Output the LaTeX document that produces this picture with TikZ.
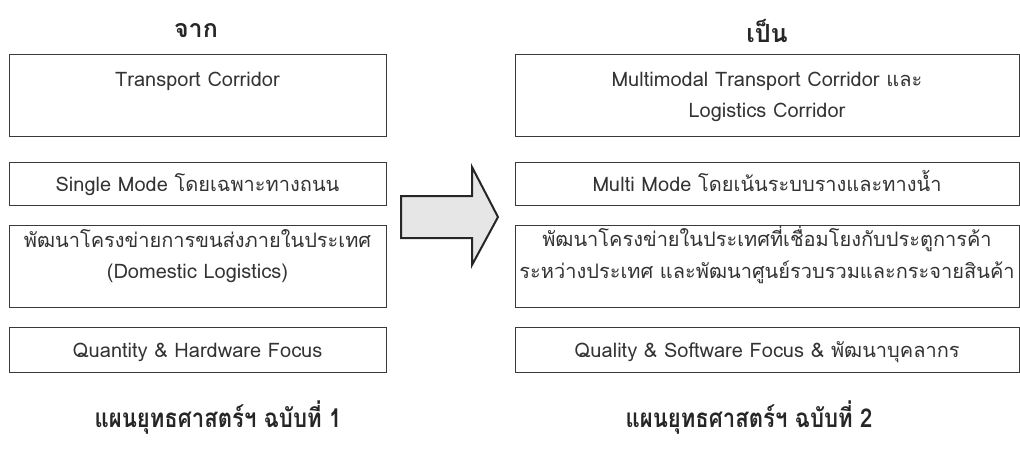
\documentclass[tikz,border=0pt]{standalone}
\usepackage{fontspec}
\setmainfont[Script=Thai]{Loma}
\newfontfamily\loma[Script=Thai]{Loma}
\newfontfamily\lomanarrow[Script=Thai, FakeStretch=0.85]{Loma}
\usetikzlibrary{calc}
\definecolor{boxline}{HTML}{3A3A3A}
\definecolor{bodytext}{HTML}{333333}
\definecolor{arrowfill}{HTML}{E6E6E6}
\tikzset{
  box/.style={draw=boxline, line width=0.9pt, rectangle, inner sep=0pt},
  body/.style={text=bodytext, align=center, inner sep=0pt, anchor=base, font=\loma\fontsize{20}{30}\selectfont},
  toptitle/.style={text=black!85, inner sep=0pt, font=\loma\bfseries\fontsize{25}{30}\selectfont},
  bottitle/.style={text=black!85, inner sep=0pt, font=\lomanarrow\bfseries\fontsize{26}{32}\selectfont},
  bigarrow/.style={draw=black!85, line width=2pt, fill=arrowfill, line join=miter}
}
\begin{document}
\begin{tikzpicture}[x=1pt,y=-1pt]
\useasboundingbox (0,0) rectangle (1020,448);
% left column boxes
\node[box, minimum width=377, minimum height=82] (L1) at (197.5,95) {};
\node[box, minimum width=377, minimum height=43] (L2) at (197.5,183.5) {};
\node[box, minimum width=377, minimum height=82] (L3) at (197.5,266) {};
\node[box, minimum width=377, minimum height=45] (L4) at (197.5,349.5) {};
% right column boxes
\node[box, minimum width=504, minimum height=82] (R1) at (767,95) {};
\node[box, minimum width=504, minimum height=43] (R2) at (767,183.5) {};
\node[box, minimum width=504, minimum height=82] (R3) at (767,266) {};
\node[box, minimum width=504, minimum height=45] (R4) at (767,349.5) {};
% titles
\node[toptitle] (tL) at (196,31) {จาก};
\node[toptitle] (tR) at (767,31) {เป็น};
\node[bottitle] (bL) at (218,418) {แผนยุทธศาสตร์ฯ ฉบับที่ 1};
\node[bottitle] (bR) at (749,418) {แผนยุทธศาสตร์ฯ ฉบับที่ 2};
% texts
\node[body] (xL1) at ($(L1.north)+(0,33)$) {Transport Corridor};
\node[body] (xL2) at ($(L2.center)+(0,8)$) {Single Mode โดยเฉพาะทางถนน};
\node[body] (xL3) at ($(L3.north)+(0,23)$) {พัฒนาโครงข่ายการขนส่งภายในประเทศ};
\node[body] (xL3b) at ($(L3.north)+(0,54)$) {(Domestic Logistics)};
\node[body] (xL4) at ($(L4.center)+(0,8)$) {Quantity \& Hardware Focus};
\node[body] (xR1) at ($(R1.north)+(0,33)$) {Multimodal Transport Corridor และ};
\node[body] (xR1b) at ($(R1.north)+(0,64)$) {Logistics Corridor};
\node[body] (xR2) at ($(R2.center)+(0,8)$) {Multi Mode โดยเน้นระบบรางและทางน้ำ};
\node[body] (xR3) at ($(R3.north)+(0,22)$) {พัฒนาโครงข่ายในประเทศที่เชื่อมโยงกับประตูการค้า};
\node[body] (xR3b) at ($(R3.north)+(0,54)$) {ระหว่างประเทศ และพัฒนาศูนย์รวบรวมและกระจายสินค้า};
\node[body] (xR4) at ($(R4.center)+(0,8)$) {Quality \& Software Focus \& พัฒนาบุคลากร};
% arrow
\draw[bigarrow] (401,196) -- (472,196) -- (472,167) -- (498,217) -- (472,265) -- (472,238) -- (401,238) -- cycle;
\end{tikzpicture}
\end{document}
